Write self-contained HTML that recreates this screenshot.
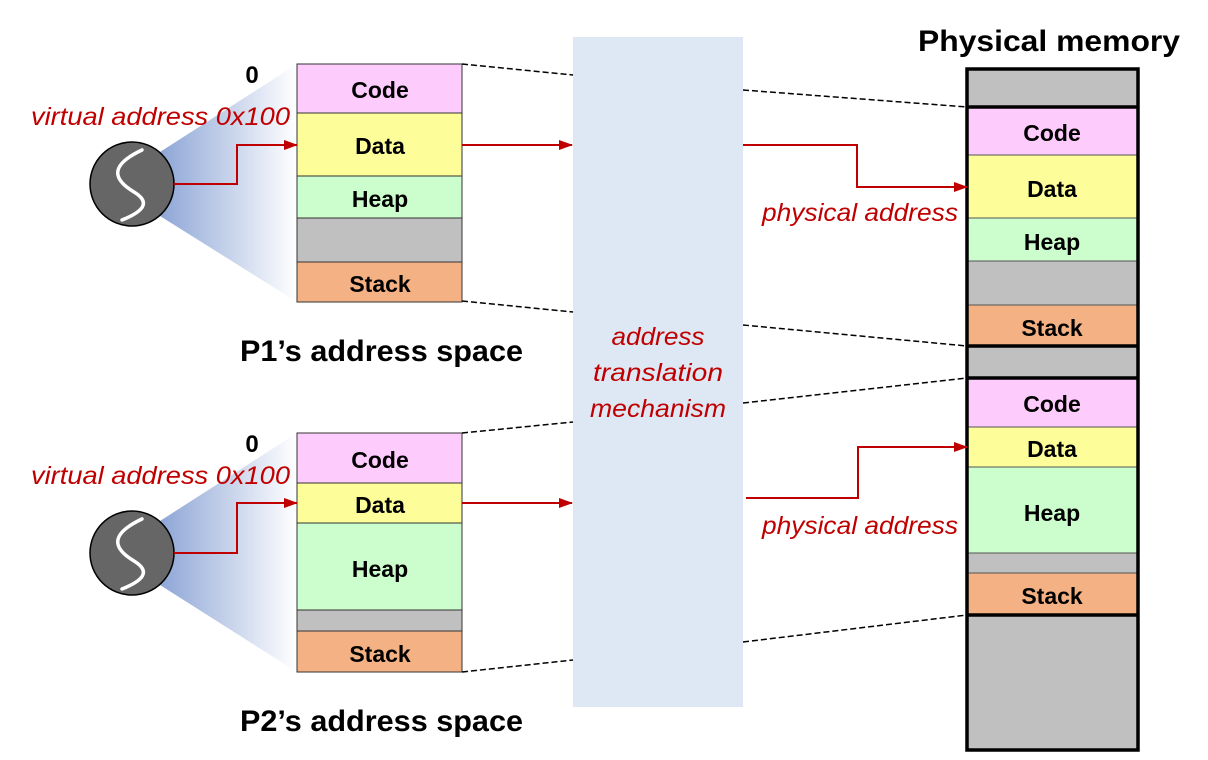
<!DOCTYPE html>
<html><head><meta charset="utf-8"><style>
html,body{margin:0;padding:0;background:#fff;width:1208px;height:760px;overflow:hidden}
text{font-family:"Liberation Sans",sans-serif}
.b{font-weight:bold;font-size:23px;text-anchor:middle;fill:#000}
.r{font-style:italic;fill:#c00000;font-size:25px}
.t{font-weight:bold;font-size:30px;fill:#000}
</style></head><body>
<svg width="1208" height="760" xmlns="http://www.w3.org/2000/svg">
<defs>
<linearGradient id="g" x1="0" x2="1" y1="0" y2="0">
<stop offset="0" stop-color="#8ea6d6"/><stop offset="1" stop-color="#ffffff"/>
</linearGradient>
<marker id="a" markerWidth="14" markerHeight="10" refX="13" refY="5" orient="auto" markerUnits="userSpaceOnUse">
<path d="M0,0 L14,5 L0,10 z" fill="#c00000"/></marker>
</defs>
<rect x="573" y="37" width="170" height="670" fill="#dde8f4"/>
<text class="r" x="658" y="345" text-anchor="middle" textLength="93" lengthAdjust="spacingAndGlyphs">address</text>
<text class="r" x="658" y="381" text-anchor="middle" textLength="130" lengthAdjust="spacingAndGlyphs">translation</text>
<text class="r" x="658" y="417" text-anchor="middle" textLength="136" lengthAdjust="spacingAndGlyphs">mechanism</text>

<polygon points="160,152 297,64 297,302 160,216" fill="url(#g)"/>
<polygon points="160,521 297,433 297,672 160,585" fill="url(#g)"/>

<g stroke="#000" stroke-width="1.5" fill="#666">
<circle cx="132" cy="184" r="42"/><circle cx="132" cy="553" r="42"/></g>
<path d="M142,150 C108,166 114,180 134,192 C152,203 142,212 122,220" stroke="#fff" stroke-width="3.5" fill="none" stroke-linecap="round"/>
<path d="M142,519 C108,535 114,549 134,561 C152,572 142,581 122,589" stroke="#fff" stroke-width="3.5" fill="none" stroke-linecap="round"/>

<g stroke="#333" stroke-width="1">
<rect x="297" y="64" width="165" height="49" fill="#fdccfd"/>
<rect x="297" y="113" width="165" height="63" fill="#fdfd99"/>
<rect x="297" y="176" width="165" height="42" fill="#ccfdcc"/>
<rect x="297" y="218" width="165" height="44" fill="#c0c0c0"/>
<rect x="297" y="262" width="165" height="40" fill="#f4b183"/>
<rect x="297" y="433" width="165" height="50" fill="#fdccfd"/>
<rect x="297" y="483" width="165" height="40" fill="#fdfd99"/>
<rect x="297" y="523" width="165" height="87" fill="#ccfdcc"/>
<rect x="297" y="610" width="165" height="21" fill="#c0c0c0"/>
<rect x="297" y="631" width="165" height="41" fill="#f4b183"/>
</g>
<text class="b" x="380" y="98">Code</text>
<text class="b" x="380" y="154">Data</text>
<text class="b" x="380" y="207">Heap</text>
<text class="b" x="380" y="292">Stack</text>
<text class="b" x="380" y="468">Code</text>
<text class="b" x="380" y="513">Data</text>
<text class="b" x="380" y="577">Heap</text>
<text class="b" x="380" y="662">Stack</text>

<text x="252" y="83" font-family="Liberation Mono" font-weight="bold" font-size="24" text-anchor="middle">0</text>
<text x="252" y="452" font-family="Liberation Mono" font-weight="bold" font-size="24" text-anchor="middle">0</text>
<text class="r" x="31" y="125" textLength="259" lengthAdjust="spacingAndGlyphs">virtual address 0x100</text>
<text class="r" x="31" y="484" textLength="259" lengthAdjust="spacingAndGlyphs">virtual address 0x100</text>
<text class="t" x="240" y="361" textLength="283" lengthAdjust="spacingAndGlyphs">P1’s address space</text>
<text class="t" x="240" y="731" textLength="283" lengthAdjust="spacingAndGlyphs">P2’s address space</text>
<text class="t" x="918" y="51" textLength="262" lengthAdjust="spacingAndGlyphs">Physical memory</text>

<g stroke="#555" stroke-width="1">
<rect x="967" y="69" width="171" height="681" fill="#c0c0c0"/>
<rect x="967" y="108" width="171" height="47" fill="#fdccfd"/>
<rect x="967" y="155" width="171" height="63" fill="#fdfd99"/>
<rect x="967" y="218" width="171" height="43" fill="#ccfdcc"/>
<rect x="967" y="305" width="171" height="40" fill="#f4b183"/>
<rect x="967" y="379" width="171" height="48" fill="#fdccfd"/>
<rect x="967" y="427" width="171" height="40" fill="#fdfd99"/>
<rect x="967" y="467" width="171" height="86" fill="#ccfdcc"/>
<rect x="967" y="573" width="171" height="41" fill="#f4b183"/>
</g>
<g stroke="#000" stroke-width="3.5" fill="none">
<rect x="967" y="69" width="171" height="681"/>
<line x1="967" y1="107" x2="1138" y2="107"/>
<line x1="967" y1="346" x2="1138" y2="346"/>
<line x1="967" y1="378" x2="1138" y2="378"/>
<line x1="967" y1="615" x2="1138" y2="615"/>
</g>
<text class="b" x="1052" y="141">Code</text>
<text class="b" x="1052" y="197">Data</text>
<text class="b" x="1052" y="250">Heap</text>
<text class="b" x="1052" y="336">Stack</text>
<text class="b" x="1052" y="412">Code</text>
<text class="b" x="1052" y="457">Data</text>
<text class="b" x="1052" y="521">Heap</text>
<text class="b" x="1052" y="604">Stack</text>

<g stroke="#000" stroke-width="1.5" stroke-dasharray="6,3" fill="none">
<line x1="462" y1="64" x2="573" y2="75"/>
<line x1="743" y1="90" x2="967" y2="107"/>
<line x1="462" y1="301" x2="573" y2="312"/>
<line x1="743" y1="325" x2="967" y2="346"/>
<line x1="462" y1="433" x2="573" y2="422"/>
<line x1="743" y1="403" x2="967" y2="378"/>
<line x1="462" y1="672" x2="573" y2="660"/>
<line x1="743" y1="642" x2="967" y2="615"/>
</g>

<g stroke="#c00000" stroke-width="2" fill="none" marker-end="url(#a)">
<polyline points="174,184 237,184 237,145 297,145"/>
<line x1="462" y1="145" x2="572" y2="145"/>
<polyline points="743,145 857,145 857,187 967,187"/>
<polyline points="174,553 237,553 237,503 297,503"/>
<line x1="462" y1="503" x2="572" y2="503"/>
<polyline points="746,498 858,498 858,447 967,447"/>
</g>
<text class="r" x="762" y="221" textLength="196" lengthAdjust="spacingAndGlyphs">physical address</text>
<text class="r" x="762" y="534" textLength="196" lengthAdjust="spacingAndGlyphs">physical address</text>
</svg>
</body></html>
